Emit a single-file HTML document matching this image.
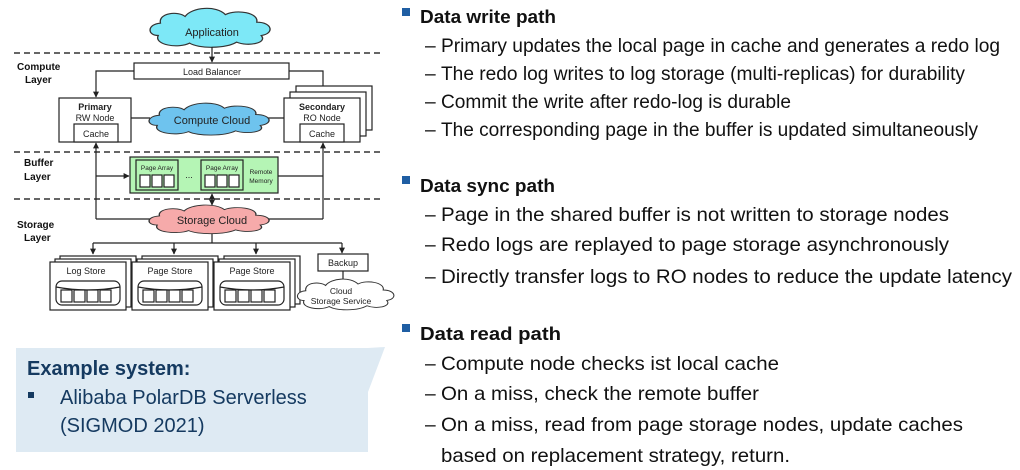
<!DOCTYPE html>
<html><head><meta charset="utf-8"><style>
body{margin:0;width:1020px;height:470px;background:#fff;overflow:hidden;position:relative;font-family:"Liberation Sans",sans-serif}
svg{position:absolute;left:0;top:0}
</style></head><body>
<svg width="1020" height="470" viewBox="0 0 1020 470" font-family="Liberation Sans, sans-serif">
<defs>
<marker id="a" viewBox="0 0 10 10" refX="9" refY="5" markerWidth="5" markerHeight="5" orient="auto-start-reverse"><path d="M0,0L10,5L0,10z" fill="#222"/></marker>
<path id="cloud" d="M10,30 C0,30 0,18 12,17 C10,6 28,4 34,10 C40,0 62,-2 70,8 C80,2 100,6 98,16 C112,16 114,28 102,30 C108,38 90,42 80,37 C70,44 46,44 38,38 C28,44 6,40 10,30z"/>
</defs>
<g stroke="#222" stroke-width="1.2" fill="none">
<g stroke-dasharray="6,4" stroke-width="1.5" stroke="#333"><line x1="14" y1="53" x2="384" y2="53"/><line x1="14" y1="152" x2="384" y2="152"/><line x1="14" y1="199" x2="384" y2="199"/></g>
<use href="#cloud" transform="translate(147,7) scale(1.12,0.95)" fill="#7de8f7" stroke="#333"/>
<line x1="212" y1="47" x2="212" y2="62" marker-end="url(#a)"/>
<rect x="134" y="63" width="155" height="16" fill="#fff"/>
<polyline points="134,71 96,71 96,97" marker-end="url(#a)"/>
<polyline points="289,71 323,71 323,97" marker-end="url(#a)"/>
<rect x="59" y="98" width="72" height="44" fill="#fff"/>
<rect x="74" y="124" width="44" height="18" fill="#fff"/>
<rect x="296" y="86" width="76" height="44" fill="#fff"/>
<rect x="290" y="92" width="76" height="44" fill="#fff"/>
<rect x="284" y="98" width="76" height="44" fill="#fff"/>
<rect x="300" y="124" width="44" height="18" fill="#fff"/>
<line x1="131" y1="118" x2="150" y2="118"/><line x1="266" y1="118" x2="284" y2="118"/>
<use href="#cloud" transform="translate(146,102) scale(1.12,0.78)" fill="#6ec3ee" stroke="#333"/>
<line x1="96" y1="219" x2="96" y2="143" marker-end="url(#a)"/>
<line x1="323" y1="219" x2="323" y2="143" marker-end="url(#a)"/>
<rect x="130" y="157" width="148" height="36" fill="#b5f5b5"/>
<rect x="136" y="160" width="42" height="30" fill="none"/>
<rect x="201" y="160" width="42" height="30" fill="none"/>
<g fill="#fff"><rect x="140" y="175" width="10" height="12"/><rect x="152" y="175" width="10" height="12"/><rect x="164" y="175" width="10" height="12"/><rect x="205" y="175" width="10" height="12"/><rect x="217" y="175" width="10" height="12"/><rect x="229" y="175" width="10" height="12"/></g>
<line x1="96" y1="176" x2="129" y2="176" marker-end="url(#a)"/>
<line x1="278" y1="176" x2="323" y2="176"/>
<line x1="212" y1="194" x2="212" y2="205" marker-start="url(#a)" marker-end="url(#a)"/>
<line x1="96" y1="219" x2="170" y2="219" marker-end="url(#a)"/>
<line x1="254" y1="219" x2="323" y2="219"/>
<use href="#cloud" transform="translate(146,204) scale(1.12,0.7)" fill="#f6aaaa" stroke="#333"/>
<line x1="212" y1="234" x2="212" y2="243"/>
<line x1="93" y1="243" x2="342" y2="243"/>
<g><line x1="93" y1="243" x2="93" y2="254" marker-end="url(#a)"/><line x1="174" y1="243" x2="174" y2="254" marker-end="url(#a)"/><line x1="256" y1="243" x2="256" y2="254" marker-end="url(#a)"/><line x1="342" y1="243" x2="342" y2="253" marker-end="url(#a)"/></g>
<g fill="#fff">
<rect x="60" y="256" width="76" height="48"/><rect x="55" y="259" width="76" height="48"/><rect x="50" y="262" width="76" height="48"/>
<rect x="142" y="256" width="76" height="48"/><rect x="137" y="259" width="76" height="48"/><rect x="132" y="262" width="76" height="48"/>
<rect x="224" y="256" width="76" height="48"/><rect x="219" y="259" width="76" height="48"/><rect x="214" y="262" width="76" height="48"/>
</g>
<g fill="#fff">
<rect x="56" y="281" width="64" height="24" rx="6"/><path d="M56,287 Q88,293 120,287"/>
<rect x="138" y="281" width="64" height="24" rx="6"/><path d="M138,287 Q170,293 202,287"/>
<rect x="220" y="281" width="64" height="24" rx="6"/><path d="M220,287 Q252,293 284,287"/>
<rect x="61" y="290" width="11" height="12"/><rect x="74" y="290" width="11" height="12"/><rect x="87" y="290" width="11" height="12"/><rect x="100" y="290" width="11" height="12"/>
<rect x="143" y="290" width="11" height="12"/><rect x="156" y="290" width="11" height="12"/><rect x="169" y="290" width="11" height="12"/><rect x="182" y="290" width="11" height="12"/>
<rect x="225" y="290" width="11" height="12"/><rect x="238" y="290" width="11" height="12"/><rect x="251" y="290" width="11" height="12"/><rect x="264" y="290" width="11" height="12"/>
</g>
<rect x="318" y="254" width="50" height="17" fill="#fff"/>
<line x1="343" y1="271" x2="343" y2="282"/>
<use href="#cloud" transform="translate(295,278) scale(0.9,0.75)" fill="#fff" stroke="#333"/>
</g>
<g fill="#222" font-size="9" text-anchor="middle">
<text x="212" y="36" font-size="11">Application</text>
<text x="212" y="75">Load Balancer</text>
<text x="95" y="110" font-weight="bold">Primary</text><text x="95" y="121">RW Node</text><text x="96" y="137">Cache</text>
<text x="322" y="110" font-weight="bold">Secondary</text><text x="322" y="121">RO Node</text><text x="322" y="137">Cache</text>
<text x="212" y="124" font-size="11">Compute Cloud</text>
<text x="157" y="170" font-size="6.5">Page Array</text><text x="222" y="170" font-size="6.5">Page Array</text>
<text x="189" y="178">...</text>
<text x="261" y="174" font-size="6.5">Remote</text><text x="261" y="183" font-size="6.5">Memory</text>
<text x="212" y="224" font-size="11">Storage Cloud</text>
<text x="86" y="274">Log Store</text><text x="170" y="274">Page Store</text><text x="252" y="274">Page Store</text>
<text x="343" y="266">Backup</text>
<text x="341" y="294" font-size="8.5">Cloud</text><text x="341" y="304" font-size="8.5">Storage Service</text>
</g>
<g fill="#111" font-size="10" font-weight="bold">
<text x="17" y="70">Compute</text><text x="25" y="83">Layer</text>
<text x="24" y="166">Buffer</text><text x="24" y="180">Layer</text>
<text x="17" y="228">Storage</text><text x="24" y="241">Layer</text>
</g>
<polygon points="16,348 368,348 385,347 368,392 368,452 16,452" fill="#deeaf3"/>
<g fill="#153a60" font-size="20">
<text x="27" y="375" font-weight="bold">Example system:</text>
<rect x="28" y="392" width="6" height="6"/>
<text x="60" y="404">Alibaba PolarDB Serverless</text>
<text x="60" y="432">(SIGMOD 2021)</text>
</g>
<g font-size="19.2" fill="#111" lengthAdjust="spacingAndGlyphs">
<rect x="402" y="8" width="8" height="8" fill="#1f5ea3"/>
<text x="420" y="23" font-weight="bold" font-size="18.8" textLength="136" lengthAdjust="spacingAndGlyphs">Data write path</text>
<text x="425" y="52">–</text><text x="441" y="52" textLength="559" lengthAdjust="spacingAndGlyphs">Primary updates the local page in cache and generates a redo log</text>
<text x="425" y="80">–</text><text x="441" y="80" textLength="524" lengthAdjust="spacingAndGlyphs">The redo log writes to log storage (multi-replicas) for durability</text>
<text x="425" y="108">–</text><text x="441" y="108" textLength="350" lengthAdjust="spacingAndGlyphs">Commit the write after redo-log is durable</text>
<text x="425" y="136">–</text><text x="441" y="136" textLength="537" lengthAdjust="spacingAndGlyphs">The corresponding page in the buffer is updated simultaneously</text>
<rect x="402" y="176" width="8" height="8" fill="#1f5ea3"/>
<text x="420" y="192" font-weight="bold" font-size="18.8" textLength="135" lengthAdjust="spacingAndGlyphs">Data sync path</text>
<text x="425" y="221">–</text><text x="441" y="221" textLength="508" lengthAdjust="spacingAndGlyphs">Page in the shared buffer is not written to storage nodes</text>
<text x="425" y="251">–</text><text x="441" y="251" textLength="508" lengthAdjust="spacingAndGlyphs">Redo logs are replayed to page storage asynchronously</text>
<text x="425" y="283">–</text><text x="441" y="283" textLength="571" lengthAdjust="spacingAndGlyphs">Directly transfer logs to RO nodes to reduce the update latency</text>
<rect x="402" y="324" width="8" height="8" fill="#1f5ea3"/>
<text x="420" y="340" font-weight="bold" font-size="18.8" textLength="141" lengthAdjust="spacingAndGlyphs">Data read path</text>
<text x="425" y="370">–</text><text x="441" y="370" textLength="338" lengthAdjust="spacingAndGlyphs">Compute node checks ist local cache</text>
<text x="425" y="400">–</text><text x="441" y="400" textLength="318" lengthAdjust="spacingAndGlyphs">On a miss, check the remote buffer</text>
<text x="425" y="431">–</text><text x="441" y="431" textLength="522" lengthAdjust="spacingAndGlyphs">On a miss, read from page storage nodes, update caches</text>
<text x="441" y="462" textLength="349" lengthAdjust="spacingAndGlyphs">based on replacement strategy, return.</text>
</g>
</svg>
</body></html>
